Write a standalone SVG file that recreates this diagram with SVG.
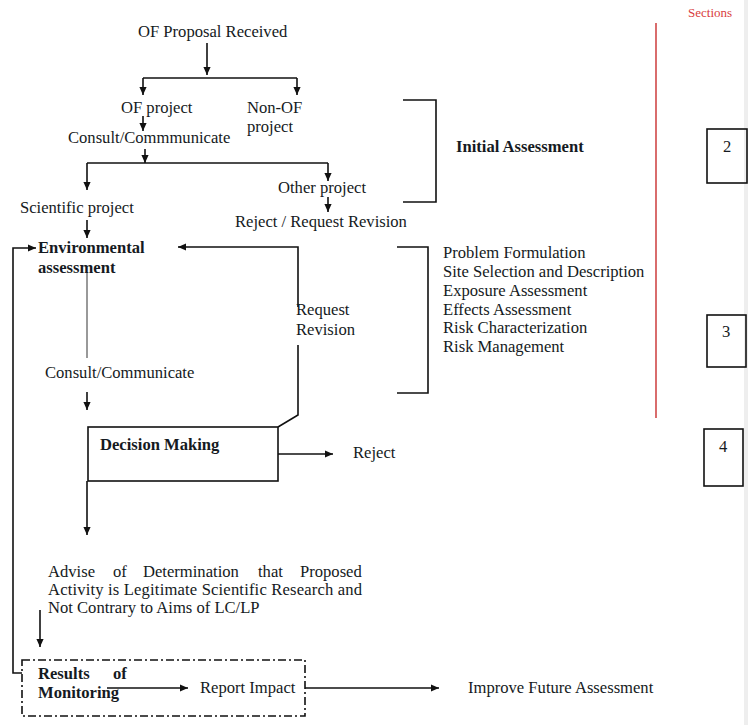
<svg xmlns="http://www.w3.org/2000/svg" width="748" height="725" viewBox="0 0 748 725">
  <style>
    text { font-family: "Liberation Serif", "Times New Roman", serif; font-size: 16.6px; fill: #151a22; }
    .b { font-weight: bold; }
    .ln { fill: none; stroke: #111; stroke-width: 1.6; }
    .arr { fill: none; stroke: #111; stroke-width: 1.6; marker-end: url(#ah); }
    .thin { fill: none; stroke: #555; stroke-width: 1.2; }
    .box { fill: none; stroke: #111; stroke-width: 1.6; }
    .sec { font-size: 13px; fill: #d84040; }
  </style>
  <defs>
    <marker id="ah" viewBox="0 0 10 10" refX="10" refY="5" markerWidth="9" markerHeight="8" markerUnits="userSpaceOnUse" orient="auto">
      <path d="M0,0.5 L10,5 L0,9.5 z" fill="#111"/>
    </marker>
  </defs>
  <rect width="748" height="725" fill="#fff"/>
  <rect x="744" y="0" width="4" height="725" fill="#eeeeee"/>

  <!-- connectors -->
  <g id="connectors">
    <path class="arr" d="M207,43 V75"/>
    <path class="ln" d="M143,78 H297"/>
    <path class="arr" d="M143,78 V95"/>
    <path class="arr" d="M297,78 V95"/>
    <path class="arr" d="M143,116 V131"/>
    <path class="arr" d="M145,149 V163"/>
    <path class="ln" d="M87,163 H328"/>
    <path class="arr" d="M87,163 V190"/>
    <path class="arr" d="M328,163 V181"/>
    <path class="arr" d="M328,197 V212"/>
    <path class="arr" d="M87,220 V238"/>
    <path class="arr" d="M22,673 H13 V248 H36"/>
    <path class="ln" d="M298,345 V415 L278,427"/>
    <path class="arr" d="M298,307 V247 H178"/>
    <path class="thin" d="M87,272 V358"/>
    <path class="arr" d="M87,392 V410"/>
    <path class="arr" d="M278,454 H333"/>
    <path class="arr" d="M87,481 V535"/>
    <path class="arr" d="M40,610 V647"/>
    <path class="arr" d="M107,688 H188"/>
    <path class="arr" d="M305,688 H439"/>
  </g>

  <g id="proposal"><text x="138" y="37">OF Proposal Received</text></g>
  <g id="of-project"><text x="121" y="113">OF project</text></g>
  <g id="non-of-project"><text x="247" y="113">Non-OF</text><text x="247" y="132">project</text></g>
  <g id="consult-1"><text x="68" y="143">Consult/Commmunicate</text></g>
  <g id="other-project"><text x="278" y="193">Other project</text></g>
  <g id="scientific-project"><text x="20" y="213">Scientific project</text></g>
  <g id="reject-revision"><text x="235" y="227">Reject / Request Revision</text></g>

  <g id="initial-assessment">
    <path class="ln" d="M403,100 H436 V202 H403"/>
    <text class="b" x="456" y="152">Initial Assessment</text>
  </g>

  <g id="environmental-assessment">
    <text class="b" x="38" y="253">Environmental</text>
    <text class="b" x="38" y="273">assessment</text>
  </g>

  <g id="request-revision"><text x="296" y="315">Request</text><text x="296" y="335">Revision</text></g>

  <g id="assessment-steps">
    <path class="ln" d="M397,247 H428 V393 H397"/>
    <text x="443" y="258">Problem Formulation</text>
    <text x="443" y="277">Site Selection and Description</text>
    <text x="443" y="296">Exposure Assessment</text>
    <text x="443" y="315">Effects Assessment</text>
    <text x="443" y="333">Risk Characterization</text>
    <text x="443" y="352">Risk Management</text>
  </g>

  <g id="consult-2"><text x="45" y="378">Consult/Communicate</text></g>

  <g id="decision-making">
    <rect class="box" x="88" y="427" width="190" height="54"/>
    <text class="b" x="100" y="450">Decision Making</text>
  </g>
  <g id="reject"><text x="353" y="458">Reject</text></g>

  <g id="advise">
    <text y="577"><tspan x="48">Advise</tspan><tspan x="113">of</tspan><tspan x="143">Determination</tspan><tspan x="258">that</tspan><tspan x="300">Proposed</tspan></text>
    <text x="48" y="595" textLength="314" lengthAdjust="spacing">Activity is Legitimate Scientific Research and</text>
    <text x="48" y="613">Not Contrary to Aims of LC/LP</text>
  </g>

  <g id="monitoring">
    <rect class="box" x="22" y="660" width="283" height="56" stroke-width="1.4" stroke-dasharray="8 3 2 3"/>
    <text class="b" y="679"><tspan x="38">Results</tspan><tspan x="113">of</tspan></text>
    <text class="b" x="38" y="698">Monitoring</text>
  </g>
  <g id="report-impact"><text x="200" y="693">Report Impact</text></g>
  <g id="improve"><text x="468" y="693">Improve Future Assessment</text></g>

  <g id="sections">
    <path d="M656,23 V418" fill="none" stroke="#d04848" stroke-width="1.6"/>
    <text class="sec" x="688" y="17">Sections</text>
    <rect class="box" x="707" y="129" width="40" height="54"/>
    <text x="723" y="152" font-size="15">2</text>
    <rect class="box" x="707" y="315" width="39" height="52"/>
    <text x="722" y="337" font-size="15">3</text>
    <rect class="box" x="704" y="429" width="39" height="57"/>
    <text x="719" y="452" font-size="15">4</text>
  </g>
</svg>
